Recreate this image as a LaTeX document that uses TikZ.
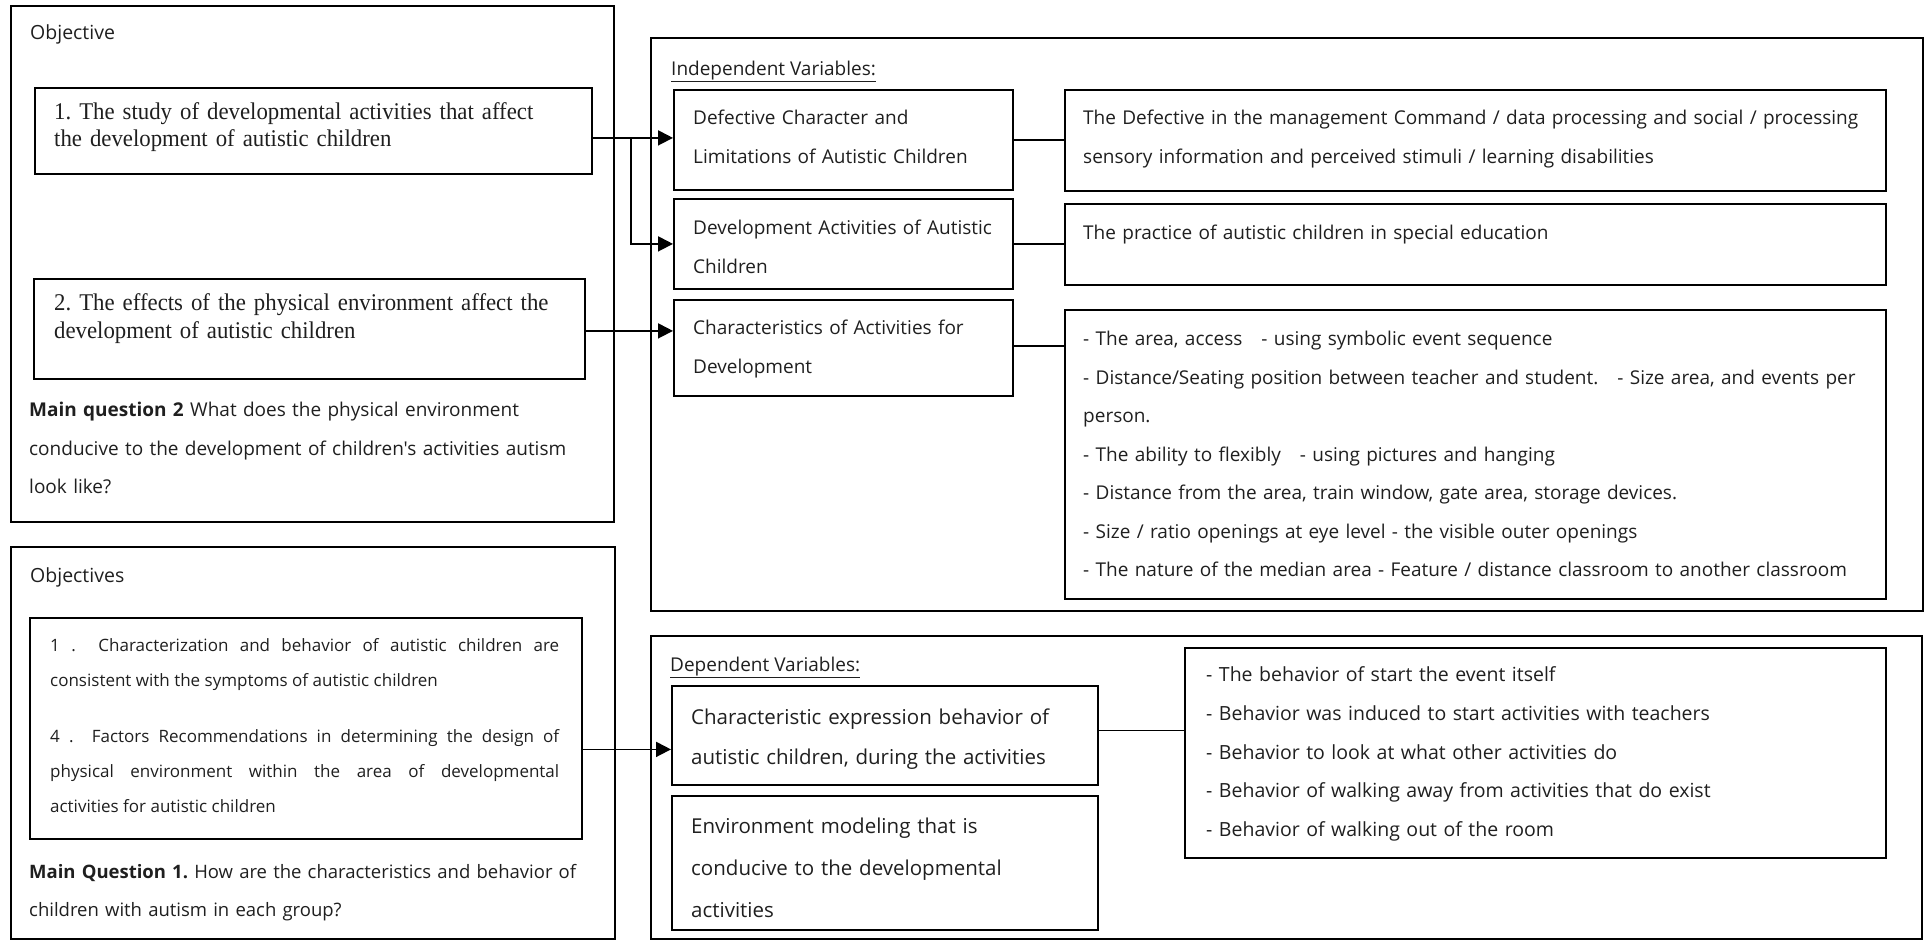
\documentclass[tikz,border=0pt]{standalone}
\usepackage{fontspec}
\usetikzlibrary{arrows.meta}
\newfontfamily\osans{Open Sans}
\newfontfamily\tser[FakeStretch=0.95]{Liberation Serif}
\frenchspacing
\begin{document}
\begin{tikzpicture}[x=1pt,y=-1pt,
  box/.style={draw=black,line width=1.8pt,rectangle,inner sep=0pt,anchor=north west},
  txt/.style={anchor=base west,inner sep=0pt,align=left,text=black!88},
  arr/.style={line width=1.8pt,-{Triangle[length=15pt,width=15pt]}},
  lnk/.style={line width=1.8pt}]
\useasboundingbox (0,0) rectangle (1927,940);
% helper: box from corners
\newcommand\mybox[5]{\node[box,minimum width=#4-#2,minimum height=#5-#3] (#1) at (#2,#3) {};}
% ---------------- top-left
\mybox{tl}{10}{5}{613}{521}
\mybox{ob1}{34}{87}{591}{173}
\mybox{ob2}{33}{278}{584}{378}
\node[txt,font={\osans\fontsize{19.5}{38.5}\selectfont}] (objt) at (30,39.5) {Objective};
\node[txt,text width=540pt,font={\tser\fontsize{24}{27}\selectfont}] (ob1t) at (54,119)
 {1. The study of developmental activities that affect\\the development of autistic children};
\node[txt,text width=540pt,font={\tser\fontsize{24}{28}\selectfont}] (ob2t) at (54,310)
 {2. The effects of the physical environment affect the\\development of autistic children};
\node[txt,text width=580pt,font={\osans\fontsize{19}{38.5}\selectfont}] (mq2) at (29,416.5)
 {{\bfseries Main question 2} What does the physical environment\\conducive to the development of children's activities autism\\look like?};
% ---------------- bottom-left
\mybox{bl}{10}{546}{614}{938}
\mybox{ib}{29}{617}{581}{838}
\node[txt,font={\osans\fontsize{19.5}{38.5}\selectfont}] (objst) at (30,582.5) {Objectives};
\node[txt,align=justify,text width=509pt,font={\osans\fontsize{17}{35}\selectfont}] (ibt) at (50,651)
 {1 .\ \ Characterization and behavior of autistic children are\linebreak
  consistent with the symptoms of autistic children\\[21pt]
  4 .\ \ Factors Recommendations in determining the design of\linebreak
  physical environment within the area of developmental\linebreak
  activities for autistic children};
\node[txt,text width=580pt,font={\osans\fontsize{18.5}{38}\selectfont}] (mq1) at (29,878.5)
 {{\bfseries Main Question 1.} How are the characteristics and behavior of\\children with autism in each group?};
% ---------------- independent
\mybox{iv}{650}{37}{1922}{610}
\node[txt,font={\osans\fontsize{19}{38}\selectfont}] (ivt) at (671,75.5) {\underline{Independent Variables:}};
\mybox{def}{673}{89}{1012}{189}
\mybox{dev}{673}{198}{1012}{288}
\mybox{cha}{673}{299}{1012}{395}
\mybox{ra}{1064}{89}{1885}{190}
\mybox{rb}{1064}{203}{1885}{284}
\mybox{rc}{1064}{309}{1885}{598}
\tikzset{sm/.style={txt,text width=330pt,font={\osans\fontsize{19}{39}\selectfont}}}
\node[sm] (deft) at (693,124.5) {Defective Character and\\Limitations of Autistic Children};
\node[sm] (devt) at (693,234.5) {Development Activities of Autistic\\Children};
\node[sm] (chat) at (693,334.5) {Characteristics of Activities for\\Development};
\tikzset{rt/.style={txt,text width=810pt,font={\osans\fontsize{19}{39}\selectfont}}}
\node[rt] (rat) at (1083,124.5) {The Defective in the management Command / data processing and social / processing\\sensory information and perceived stimuli / learning disabilities};
\node[rt] (rbt) at (1083,239.5) {The practice of autistic children in special education};
\node[rt,font={\osans\fontsize{19}{38.5}\selectfont}] (rct) at (1083,345.5)
 {- The area, access\ \ \ - using symbolic event sequence\\
  - Distance/Seating position between teacher and student.\ \ \ - Size area, and events per\\
  person.\\
  - The ability to flexibly\ \ \ - using pictures and hanging\\
  - Distance from the area, train window, gate area, storage devices.\\
  - Size / ratio openings at eye level - the visible outer openings\\
  - The nature of the median area - Feature / distance classroom to another classroom};
% ---------------- dependent
\mybox{dv}{650}{635}{1921}{938}
\node[txt,font={\osans\fontsize{19}{38}\selectfont}] (dvt) at (670,671.5) {\underline{Dependent Variables:}};
\mybox{ce}{671}{685}{1097}{784}
\mybox{env}{671}{795}{1097}{929}
\mybox{dr}{1184}{647}{1885}{857}
\node[txt,text width=420pt,font={\osans\fontsize{20.5}{40}\selectfont}] (cet) at (691,724)
 {Characteristic expression behavior of\\autistic children, during the activities};
\node[txt,text width=420pt,font={\osans\fontsize{20.5}{42}\selectfont}] (envt) at (691,833)
 {Environment modeling that is\\conducive to the developmental\\activities};
\node[txt,text width=690pt,font={\osans\fontsize{19.5}{38.75}\selectfont}] (drt) at (1206,681.5)
 {- The behavior of start the event itself\\
  - Behavior was induced to start activities with teachers\\
  - Behavior to look at what other activities do\\
  - Behavior of walking away from activities that do exist\\
  - Behavior of walking out of the room};
% ---------------- connectors
\coordinate (br) at (631,137);
\draw[arr] ([yshift=-7pt]ob1.east) -- ([yshift=-7pt]ob1.east -| def.west);
\draw[arr] (br) |- (dev.west);
\draw[arr] ([yshift=-2pt]ob2.east) -- ([yshift=-2pt]ob2.east -| cha.west);
\draw[lnk] (def.east) -- (def.east -| ra.west);
\draw[lnk] (dev.east) -- (dev.east -| rb.west);
\draw[lnk] ([yshift=2pt]cha.east) -- ([yshift=2pt]cha.east -| rc.west);
\draw[arr] ([yshift=-21pt]ib.east) -- ([yshift=-21pt]ib.east -| ce.west);
\draw[lnk] ([yshift=5pt]ce.east) -- ([yshift=5pt]ce.east -| dr.west);
\end{tikzpicture}
\end{document}
